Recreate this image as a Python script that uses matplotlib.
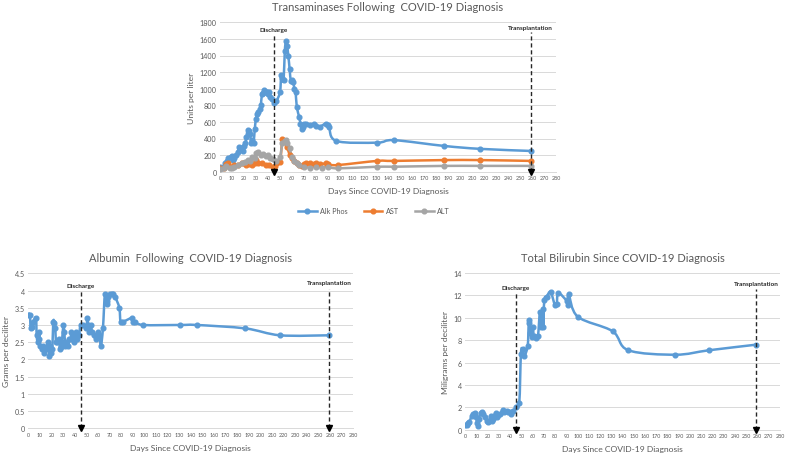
import numpy as np
import matplotlib
matplotlib.use("Agg")
import matplotlib.pyplot as plt
from matplotlib.path import Path
from matplotlib.patches import PathPatch
from matplotlib.lines import Line2D

plt.rcParams['font.family'] = ['Lato', 'DejaVu Sans']

# ---------------- data ----------------
alk_days = [0, 2, 4, 6, 7, 9, 10, 11, 12, 13, 15, 16, 17, 18, 19, 20, 21, 22, 23, 24, 25, 26, 27, 28, 29,
            30, 31, 32, 33, 34, 35, 36, 37, 38, 39, 40, 41, 42, 43, 45, 47, 50, 51, 52, 53, 54, 55, 56, 57,
            58, 59, 60, 61, 62, 63, 64, 66, 67, 68, 69, 70, 72, 75, 78, 80, 83, 88, 90, 91, 97, 131, 145,
            187, 217, 259]
alk_vals = [60, 50, 100, 130, 160, 180, 190, 140, 170, 200, 240, 300, 280, 290, 250, 310, 340, 420, 500,
            490, 450, 350, 380, 350, 520, 640, 700, 720, 750, 800, 940, 950, 980, 960, 960, 940, 960, 900,
            880, 830, 850, 960, 1160, 1130, 1100, 1450, 1580, 1510, 1390, 1240, 1090, 1100, 1080, 1000,
            960, 780, 660, 580, 520, 540, 570, 570, 560, 570, 550, 540, 580, 560, 540, 370, 350, 380, 310,
            275, 250]

ast_days = [0, 3, 5, 7, 10, 12, 15, 18, 20, 22, 24, 27, 29, 30, 32, 35, 38, 41, 44, 46, 50, 52, 54, 56,
            58, 60, 62, 64, 66, 68, 70, 72, 75, 78, 80, 83, 88, 90, 98, 131, 145, 187, 217, 259]
ast_vals = [40, 50, 90, 100, 60, 80, 80, 100, 100, 80, 90, 80, 110, 140, 100, 100, 80, 80, 60, 70, 120,
            390, 360, 300, 200, 160, 130, 100, 80, 70, 90, 100, 100, 90, 100, 90, 100, 90, 80, 130, 130,
            140, 140, 130]

alt_days = [0, 3, 5, 8, 10, 12, 15, 18, 21, 23, 25, 27, 29, 30, 32, 34, 36, 38, 40, 42, 44, 47, 50, 52,
            54, 55, 56, 58, 60, 62, 64, 66, 70, 75, 80, 85, 90, 98, 131, 145, 187, 217, 259]
alt_vals = [30, 40, 70, 50, 40, 60, 80, 100, 120, 140, 130, 180, 160, 230, 240, 200, 210, 190, 200, 170,
            150, 130, 180, 340, 370, 380, 350, 280, 180, 130, 100, 80, 60, 50, 60, 50, 60, 40, 60, 60, 70,
            70, 70]

alb_days = [0, 1.4, 2, 3.4, 4.3, 6.6, 7.2, 8, 9, 9.5, 10, 11.5, 13, 13.8, 15.2, 17.2, 18, 18.7, 19.5,
            20.7, 21.5, 22.4, 23.3, 23.8, 25, 26.4, 27.3, 28.4, 29, 30.2, 31, 31.9, 32.5, 34.5, 35.3, 36.5,
            37, 38.2, 39.3, 41.4, 42.2, 43.7, 45, 47.4, 50, 50.8, 51.7, 52.6, 54, 54.9, 56.6, 58, 59.7,
            61.2, 62.6, 64.3, 66, 67.5, 68.2, 69, 70, 72, 73, 75, 78.4, 79.5, 82, 89, 90.5, 92, 99, 131,
            145, 187, 217, 259]
alb_vals = [3.3, 3.3, 2.9, 2.95, 3.1, 3.2, 2.7, 2.5, 2.6, 2.8, 2.4, 2.3, 2.4, 2.2, 2.3, 2.5, 2.1, 2.4, 2.2,
            2.3, 3.1, 3.05, 2.9, 2.5, 2.5, 2.6, 2.3, 2.35, 2.5, 3.0, 2.8, 2.4, 2.5, 2.4, 2.6, 2.6, 2.8,
            2.7, 2.5, 2.8, 2.6, 2.7, 3.0, 3.0, 2.9, 3.2, 3.0, 2.8, 3.0, 2.8, 2.7, 2.6, 2.8, 2.7, 2.4, 2.9,
            3.9, 3.6, 3.7, 3.8, 3.9, 3.9, 3.9, 3.8, 3.5, 3.1, 3.1, 3.2, 3.1, 3.1, 3.0, 3.0, 3.0, 2.9, 2.7,
            2.7]

bil_days = [0, 1.2, 2.7, 3.6, 5.6, 7.1, 8.3, 9.5, 10.4, 11.3, 12.2, 13.6, 14.8, 16, 17.5, 19, 19.9, 21.4,
            22.5, 23.4, 24.3, 25.5, 27, 27.9, 29.4, 30.9, 33.2, 34.7, 36.8, 38.3, 39.7, 40.9, 42.7, 45.1,
            48, 49.5, 51, 52.5, 55.5, 56.4, 57, 58, 59.3, 60, 61, 63, 64.7, 66.4, 67.6, 68.8, 69.4, 70.3,
            72.4, 75.9, 79.8, 81.3, 82.8, 90.2, 91, 92, 100, 131, 145, 187, 217, 259]
bil_vals = [0.4, 0.4, 0.6, 0.7, 1.2, 1.4, 1.5, 1.1, 0.6, 0.3, 1.0, 1.5, 1.6, 1.4, 1.1, 0.8, 0.7, 0.8, 1.2,
            0.8, 1.0, 1.2, 1.5, 1.1, 1.3, 1.4, 1.8, 1.6, 1.7, 1.6, 1.6, 1.4, 1.7, 2.0, 2.4, 6.8, 7.2, 6.6,
            7.5, 9.5, 9.8, 8.6, 8.3, 9.2, 8.4, 8.2, 8.4, 10.5, 9.2, 10.8, 9.2, 11.6, 11.9, 12.3, 11.1, 11.2,
            12.2, 11.5, 11.1, 12.1, 10.1, 8.8, 7.1, 6.7, 7.1, 7.6]

discharge_day = 45
transplant_day = 259
x_ticks = list(range(0, 281, 10))

BLUE = '#5B9BD5'
ORANGE = '#ED7D31'
GRAY = '#A5A5A5'
TXT = '#595959'

W, H = 787, 456
fig = plt.figure(figsize=(W / 100, H / 100), dpi=100)


def px_axes(x0, x1, ytop, ybot):
    return fig.add_axes([x0 / W, 1 - ybot / H, (x1 - x0) / W, (ybot - ytop) / H])


def smooth(ax, x, y, color, lw=1.8):
    pts = np.column_stack([x, y]).astype(float)
    n = len(pts)
    verts = [pts[0]]
    codes = [Path.MOVETO]
    for i in range(n - 1):
        p0 = pts[i - 1] if i > 0 else pts[i]
        p1 = pts[i]
        p2 = pts[i + 1]
        p3 = pts[i + 2] if i + 2 < n else pts[i + 1]
        verts += [p1 + (p2 - p0) / 6.0, p2 - (p3 - p1) / 6.0, p2]
        codes += [Path.CURVE4] * 3
    ax.add_patch(PathPatch(Path(verts, codes), facecolor='none', edgecolor=color, lw=lw,
                           capstyle='round', joinstyle='round', zorder=3))
    ax.plot(x, y, 'o', color=color, ms=3.4, mec=color, zorder=4)


def style(ax, ymax, ystep, yfmt, title, ylabel):
    ax.set_xlim(0, 280)
    ax.set_ylim(0, ymax)
    ax.set_xticks(x_ticks)
    ax.set_xticklabels([str(t) for t in x_ticks], fontsize=3.9, color=TXT)
    yt = np.arange(0, ymax + ystep / 2, ystep)
    ax.set_yticks(yt)
    ax.set_yticklabels([yfmt(v) for v in yt], fontsize=5.2, color=TXT)
    ax.tick_params(length=0, pad=2.5)
    ax.grid(axis='y', color='#D9D9D9', lw=0.7)
    ax.set_axisbelow(True)
    for s in ['top', 'right', 'left']:
        ax.spines[s].set_visible(False)
    ax.spines['bottom'].set_color('#D9D9D9')
    ax.spines['bottom'].set_linewidth(0.7)
    ax.set_title(title, fontsize=8.0, color=TXT, pad=9)
    ax.set_ylabel(ylabel, fontsize=6.1, color=TXT, labelpad=3)
    ax.set_xlabel('Days Since COVID-19 Diagnosis', fontsize=6.1, color=TXT, labelpad=5)


def marker_line(ax, day, ytop, ytext, label):
    ax.plot([day, day], [0, ytop], ls=(0, (3, 2)), color='#262626', lw=1.0, zorder=5)
    ax.plot([day], [0], marker='v', color='black', ms=4, clip_on=False, zorder=6)
    ax.text(day, ytext, label, ha='center', va='center', fontsize=4.6, fontweight='bold',
            color='#262626', zorder=6)


# ---- top chart ----
ax1 = px_axes(220, 556, 23.3, 172.7)
style(ax1, 1800, 200, lambda v: f"{int(v)}", 'Transaminases Following  COVID-19 Diagnosis', 'Units per liter')
smooth(ax1, alk_days, alk_vals, BLUE)
smooth(ax1, ast_days, ast_vals, ORANGE)
smooth(ax1, alt_days, alt_vals, GRAY)
marker_line(ax1, discharge_day, 1660, 1712, 'Discharge')
marker_line(ax1, transplant_day, 1685, 1736, 'Transplantation')
handles = [Line2D([], [], color=c, marker='o', ms=3.4, lw=1.8) for c in (BLUE, ORANGE, GRAY)]
fig.legend(handles, ['Alk Phos', 'AST', 'ALT'], loc='center', bbox_to_anchor=(374 / W, 1 - 212 / H),
           ncol=3, frameon=False, fontsize=5.2, labelcolor=TXT, handlelength=2.6, columnspacing=2.2,
           handletextpad=0.5)

# ---- bottom left ----
ax2 = px_axes(28.3, 353.3, 274.3, 429.3)
style(ax2, 4.5, 0.5, lambda v: f"{v:g}", 'Albumin  Following  COVID-19 Diagnosis', 'Grams per deciliter')
smooth(ax2, alb_days, alb_vals, BLUE)
marker_line(ax2, discharge_day, 4.0, 4.16, 'Discharge')
marker_line(ax2, transplant_day, 4.04, 4.22, 'Transplantation')

# ---- bottom right ----
ax3 = px_axes(465.3, 780, 274, 430.7)
style(ax3, 14, 2, lambda v: f"{int(v)}", 'Total Bilirubin Since COVID-19 Diagnosis', 'Miligrams per deciliter')
smooth(ax3, bil_days, bil_vals, BLUE)
marker_line(ax3, discharge_day, 12.27, 12.72, 'Discharge')
marker_line(ax3, transplant_day, 12.57, 13.08, 'Transplantation')

fig.savefig('out.png', dpi=100)
